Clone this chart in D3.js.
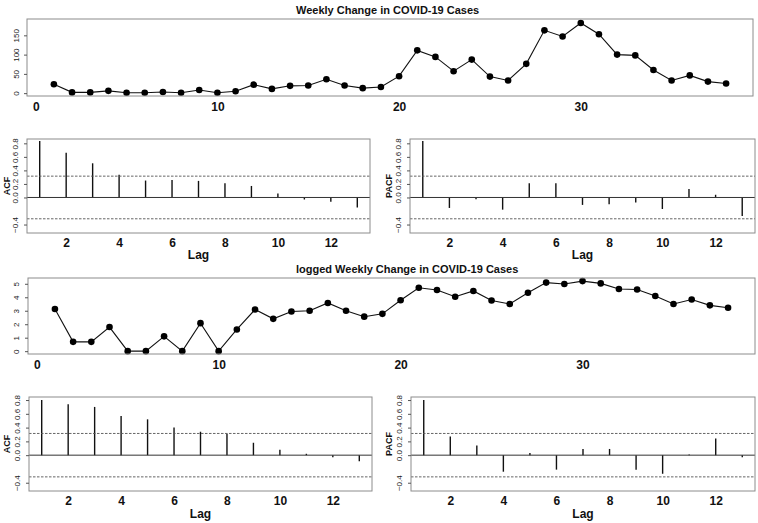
<!DOCTYPE html>
<meta charset="utf-8">
<title>Weekly Change in COVID-19 Cases</title>
<script src="https://d3js.org/d3.v7.min.js"></script>
<style>
  body { margin: 0; background: #fff; }
  text { font-family: "Liberation Sans", Arial, sans-serif; }
</style>
<body>
<script>

// weekly change in cases, weeks 1..38
const weeks = d3.range(1, 39);
const weekly = [23, 2, 2, 6, 1, 1, 3, 1, 8, 1, 5, 22, 11, 19, 20, 36, 20, 13, 16, 44,
  111, 94, 57, 87, 43, 33, 76, 163, 147, 182, 153, 100, 98, 60, 33, 46, 30, 25];
const logged = [3.13, 0.69, 0.69, 1.79, 0, 0, 1.10, 0, 2.08, 0, 1.61, 3.09, 2.40, 2.94, 3.00, 3.58, 3.00, 2.56, 2.77, 3.78,
  4.71, 4.54, 4.04, 4.47, 3.76, 3.50, 4.33, 5.09, 4.99, 5.20, 5.03, 4.61, 4.58, 4.09, 3.50, 3.83, 3.40, 3.22];

// correlograms, lags 1..13
const lags = d3.range(1, 14);
const acfRaw = [0.835, 0.66, 0.505, 0.335, 0.25, 0.26, 0.245, 0.21, 0.17, 0.06, -0.03, -0.065, -0.15];
const pacfRaw = [0.835, -0.155, -0.025, -0.18, 0.21, 0.21, -0.11, -0.10, -0.075, -0.17, 0.125, 0.04, -0.275];
const acfLog = [0.80, 0.74, 0.70, 0.57, 0.52, 0.40, 0.34, 0.31, 0.18, 0.08, 0.02, -0.03, -0.09];
const pacfLog = [0.80, 0.27, 0.14, -0.24, 0.03, -0.21, 0.09, 0.09, -0.21, -0.27, 0.01, 0.24, -0.03];
const clim = 0.315;

const weekTicks = [0, 10, 20, 30];
const lagTicks = [2, 4, 6, 8, 10, 12];
const corTicks = [-0.4, 0.0, 0.2, 0.4, 0.6, 0.8];

const svg = d3.select("body").append("svg")
  .attr("width", 758)
  .attr("height", 523);

function box(g, b) {
  g.append("rect")
    .attr("x", b.x0).attr("y", b.y0)
    .attr("width", b.x1 - b.x0).attr("height", b.y1 - b.y0)
    .attr("fill", "none").attr("stroke", "#8c8c8c").attr("stroke-width", 1);
}

function yAxis(g, b, y, ticks, fmt, labelX) {
  const ax = g.append("g")
    .attr("transform", `translate(${b.x0},0)`)
    .call(d3.axisLeft(y).tickValues(ticks).tickSize(3).tickFormat(fmt));
  ax.select(".domain").remove();
  ax.selectAll("line").attr("stroke", "#555");
  ax.selectAll("text")
    .attr("transform", "rotate(-90)")
    .attr("x", 0)
    .attr("y", -(b.x0 - labelX))
    .attr("dy", 0)
    .attr("text-anchor", "middle")
    .attr("font-size", 8)
    .attr("fill", "#222");
}

function xAxis(g, b, x, ticks, labelY) {
  const ax = g.append("g")
    .attr("transform", `translate(0,${b.y1})`)
    .call(d3.axisBottom(x).tickValues(ticks).tickSize(0));
  ax.select(".domain").remove();
  ax.selectAll("text")
    .attr("y", labelY - b.y1)
    .attr("dy", 0)
    .attr("font-size", 12)
    .attr("font-weight", "bold")
    .attr("fill", "#111");
}

function linePlot(b, values, yDomain, yTicks, title, titleY) {
  const g = svg.append("g");
  const x = d3.scaleLinear().domain([-0.48, 39.48]).range([b.x0, b.x1]);
  const y = d3.scaleLinear().domain(yDomain).range([b.y1, b.y0]);

  g.append("path")
    .datum(weeks)
    .attr("fill", "none")
    .attr("stroke", "#111")
    .attr("stroke-width", 1.1)
    .attr("d", d3.line().x(d => x(d)).y((d, i) => y(values[i])));

  g.selectAll("circle")
    .data(weeks)
    .join("circle")
    .attr("cx", d => x(d))
    .attr("cy", (d, i) => y(values[i]))
    .attr("r", 3.3)
    .attr("fill", "#000");

  box(g, b);
  yAxis(g, b, y, yTicks, d3.format("d"), 19);
  xAxis(g, b, x, weekTicks, b.y1 + 15);

  g.append("text")
    .attr("x", 296).attr("y", titleY)
    .attr("font-size", 11)
    .attr("font-weight", "bold")
    .attr("fill", "#111")
    .text(title);
}

function corPlot(b, values, yDomain, label, labelX, lagY) {
  const g = svg.append("g");
  const x = d3.scaleLinear().domain([0.52, 13.48]).range([b.x0, b.x1]);
  const y = d3.scaleLinear().domain(yDomain).range([b.y1, b.y0]);

  g.selectAll("line.bar")
    .data(lags)
    .join("line")
    .attr("class", "bar")
    .attr("x1", d => x(d)).attr("x2", d => x(d))
    .attr("y1", y(0))
    .attr("y2", (d, i) => y(values[i]))
    .attr("stroke", "#111")
    .attr("stroke-width", 1.4);

  g.append("line")
    .attr("x1", b.x0).attr("x2", b.x1)
    .attr("y1", y(0)).attr("y2", y(0))
    .attr("stroke", "#333").attr("stroke-width", 1);

  g.selectAll("line.clim")
    .data([clim, -clim])
    .join("line")
    .attr("class", "clim")
    .attr("x1", b.x0).attr("x2", b.x1)
    .attr("y1", d => y(d)).attr("y2", d => y(d))
    .attr("stroke", "#555")
    .attr("stroke-width", 0.9)
    .attr("stroke-dasharray", "2.5,1.5");

  box(g, b);
  yAxis(g, b, y, corTicks, d3.format(".1f"), b.x0 - 9);
  xAxis(g, b, x, lagTicks, b.y1 + 14);

  g.append("text")
    .attr("transform", `translate(${labelX},${(b.y0 + b.y1) / 2}) rotate(-90)`)
    .attr("text-anchor", "middle")
    .attr("font-size", 9)
    .attr("font-weight", "bold")
    .attr("fill", "#111")
    .text(label);

  g.append("text")
    .attr("x", (b.x0 + b.x1) / 2).attr("y", lagY)
    .attr("text-anchor", "middle")
    .attr("font-size", 12)
    .attr("font-weight", "bold")
    .attr("fill", "#111")
    .text("Lag");
}

linePlot({ x0: 27, x1: 753, y0: 19, y1: 96 }, weekly, [-7.4, 192.4], [0, 50, 100, 150],
  "Weekly Change in COVID-19 Cases", 14);
corPlot({ x0: 27, x1: 370, y0: 139, y1: 233 }, acfRaw, [-0.525, 0.864], "ACF", 10, 259);
corPlot({ x0: 410, x1: 755, y0: 139, y1: 233 }, pacfRaw, [-0.525, 0.864], "PACF", 392, 259);

linePlot({ x0: 28, x1: 755, y0: 278, y1: 354 }, logged, [-0.21, 5.43], [0, 1, 2, 3, 4, 5],
  "logged Weekly Change in COVID-19 Cases", 273);
corPlot({ x0: 29, x1: 372, y0: 397, y1: 491 }, acfLog, [-0.52, 0.844], "ACF", 10, 518);
corPlot({ x0: 411, x1: 755, y0: 397, y1: 491 }, pacfLog, [-0.52, 0.844], "PACF", 392, 518);

</script>
</body>
